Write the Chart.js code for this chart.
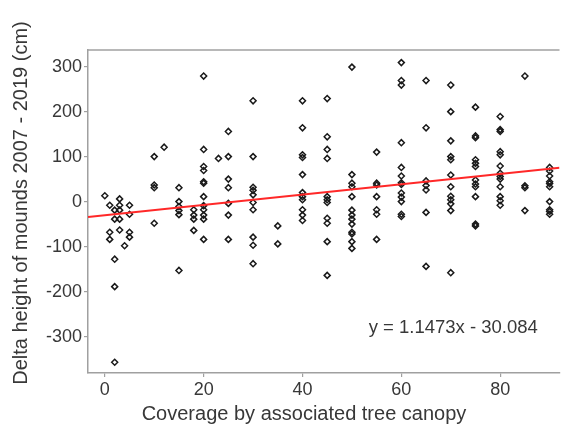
<!DOCTYPE html>
<html>
<head>
<meta charset="utf-8">
<script src="https://cdn.jsdelivr.net/npm/chart.js@4.4.1/dist/chart.umd.min.js"></script>
<style>
html, body { margin: 0; padding: 0; background: #fff; }
</style>
</head>
<body>
<canvas id="grafico" width="565" height="432"></canvas>
<script>
/* dados */
const cobertura = [0, 1, 2, 3, 4, 5, 10, 12, 15, 18, 20, 23, 25, 30, 35, 40, 45, 50, 55, 60, 65, 70, 75, 80, 85, 90];

const alturas = [
    [13],
    [-8, -68, -84],
    [-19, -39, -128, -189, -357],
    [6, -8, -19, -39, -63],
    [-98],
    [-8, -28, -68, -79],
    [100, 37, 31, -48],
    [121],
    [31, 0, -11, -20, -29, -153],
    [-18, -30, -39, -64],
    [279, 116, 78, 69, 44, 41, 11, -9, -18, -30, -39, -84],
    [96],
    [156, 100, 50, 31, -4, -30, -84],
    [224, 100, 32, 25, 15, -2, -18, -79, -97, -138],
    [-54, -94],
    [224, 164, 104, 98, 60, 20, 11, 4, -18, -30, -42],
    [229, 144, 116, 96, 11, 4, -2, -37, -48, -89, -164],
    [299, 60, 41, 33, 11, -19, -30, -39, -50, -68, -72, -89, -104],
    [110, 41, 37, 11, -18, -28, -84],
    [309, 269, 259, 131, 76, 57, 42, 38, 19, 10, 0, -28, -33],
    [269, 164, 46, 36, 26, -24, -144],
    [259, 200, 135, 100, 93, 59, 33, 12, 4, -5, -20, -158],
    [210, 146, 142, 93, 85, 78, 48, 39, 33, 11, -50, -54],
    [189, 160, 156, 111, 104, 79, 63, 56, 50, 33, 11, 2, -8],
    [279, 35, 31, -20],
    [76, 68, 57, 44, 40, 33, 0, -18, -22, -28]
];

const ticksX = [0, 20, 40, 60, 80];
const ticksY = [-300, -200, -100, 0, 100, 200, 300];

const inclinacao = 1.1473;
const intercepto = -30.084;
const equacao = "y = 1.1473x - 30.084";

const tituloX = "Coverage by associated tree canopy";
const tituloY = "Delta height of mounds 2007 - 2019 (cm)";

const xMin = -3.4, xMax = 92;
const yMin = -381, yMax = 337;

const corEixo = "#a0a0a0";
const corTexto = "#383838";
const fonte = '"Liberation Sans", Arial, sans-serif';

/* montar pontos */
const pontos = [];
cobertura.forEach((c, i) => {
    alturas[i].forEach(h => pontos.push({ x: c, y: h }));
});

const linha = [xMin, xMax].map(x => ({ x, y: inclinacao * x + intercepto }));

/* textos e moldura superior */
const textos = {
    id: "textos",
    afterDraw(chart) {
        const { ctx, chartArea: a, scales: { x, y } } = chart;
        ctx.save();
        ctx.strokeStyle = corEixo;
        ctx.lineWidth = 1.5;
        ctx.beginPath();
        ctx.moveTo(a.left, a.top);
        ctx.lineTo(a.right, a.top);
        ctx.stroke();

        ctx.fillStyle = corTexto;
        ctx.textAlign = "center";
        ctx.textBaseline = "alphabetic";
        ctx.font = "20px " + fonte;
        ctx.fillText(tituloX, 304, 420);

        ctx.font = "18.5px " + fonte;
        ctx.fillText(equacao, x.getPixelForValue(70.5), y.getPixelForValue(-292));

        ctx.translate(27, 203);
        ctx.rotate(-Math.PI / 2);
        ctx.font = "20px " + fonte;
        ctx.fillText(tituloY, 0, 0);
        ctx.restore();
    }
};

const eixo = (lista) => ({
    type: "linear",
    afterBuildTicks: s => { s.ticks = lista.map(v => ({ value: v })); },
    grid: { drawOnChartArea: false, drawTicks: true, tickLength: 4, color: corEixo, lineWidth: 1.2 },
    border: { display: true, color: corEixo, width: 1.5 },
    ticks: { color: corTexto, font: { family: fonte, size: 18 }, padding: 2 }
});

const escalaX = eixo(ticksX);
escalaX.min = xMin;
escalaX.max = xMax;
escalaX.afterFit = s => { s.height = 59; };

const escalaY = eixo(ticksY);
escalaY.min = yMin;
escalaY.max = yMax;
escalaY.afterFit = s => { s.width = 88; };

new Chart(document.getElementById("grafico"), {
    type: "scatter",
    data: {
        datasets: [
            {
                label: "tendência",
                type: "line",
                data: linha,
                borderColor: "rgb(255,40,40)",
                borderWidth: 2,
                pointRadius: 0,
                order: 0
            },
            {
                label: "montes",
                data: pontos,
                pointStyle: "rectRot",
                pointRadius: 3,
                borderColor: "#1a1a1a",
                backgroundColor: "rgba(255,255,255,0)",
                borderWidth: 1.5,
                order: 1
            }
        ]
    },
    options: {
        responsive: false,
        animation: false,
        layout: { padding: { top: 50, right: 0, left: 0, bottom: 0 } },
        plugins: { legend: { display: false }, tooltip: { enabled: false } },
        scales: { x: escalaX, y: escalaY }
    },
    plugins: [textos]
});
</script>
</body>
</html>
